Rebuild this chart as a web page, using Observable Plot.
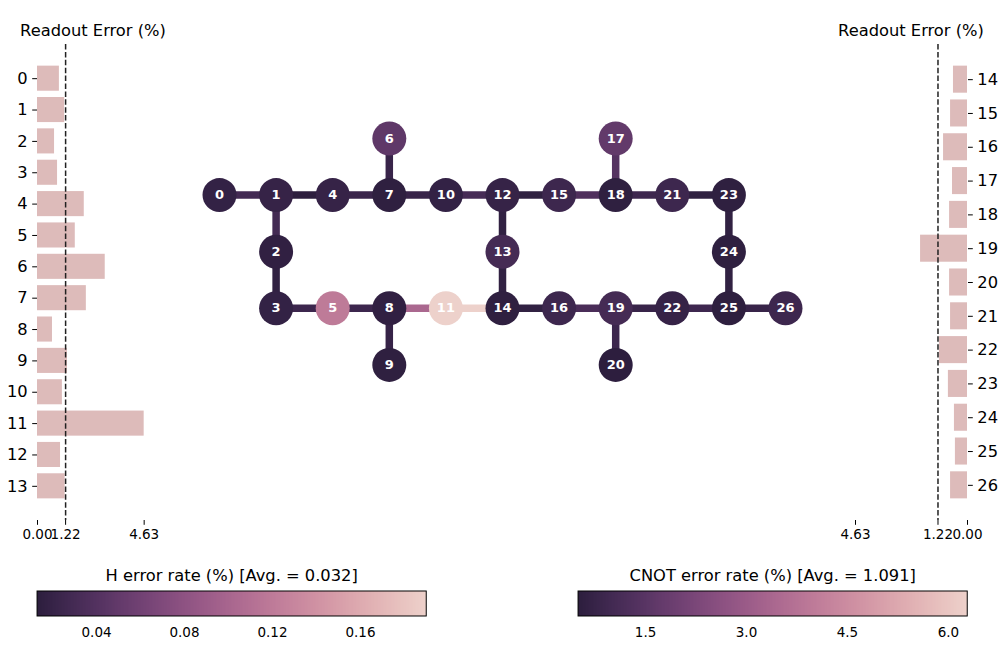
<!DOCTYPE html>
<html><head><meta charset="utf-8">
<script src="https://cdn.jsdelivr.net/npm/d3@7"></script>
<script src="https://cdn.jsdelivr.net/npm/@observablehq/plot@0.6"></script>
<style>
body{margin:0;background:#fff;}
#chart{position:relative;width:1007px;height:649px;font-family:"DejaVu Sans",sans-serif;color:#000;overflow:hidden;background:#fff;}
#chart > *{position:absolute;}
</style></head><body><div id="chart"></div>
<script>
// ---------------- data ----------------
const qubits = d3.range(27);
const leftQubits = d3.range(0, 14);
const rightQubits = d3.range(14, 27);
const readoutError = [0.95, 1.18, 0.74, 0.87, 2.03, 1.64, 2.94, 2.12, 0.65, 1.30, 1.08, 4.63, 1.00, 1.20,
                      0.58, 0.70, 0.99, 0.62, 0.74, 1.94, 0.74, 0.70, 1.16, 0.79, 0.54, 0.50, 0.70];
const readoutAvg = 1.22;
const readoutMax = 4.63;
const readoutTicks = [0, readoutAvg, readoutMax];

const qubitRow = [1,1,2,3,1,3,0,1,3,4,1,3,1,2,3,1,3,0,1,3,4,1,3,1,2,3,3];
const qubitCol = [0,1,1,1,2,2,3,3,3,3,4,4,5,5,5,6,6,7,7,7,7,8,8,9,9,9,10];
const hError = [0.018, 0.020, 0.016, 0.018, 0.020, 0.120, 0.048, 0.015, 0.016, 0.015, 0.018, 0.190, 0.020, 0.030,
                0.015, 0.025, 0.025, 0.050, 0.015, 0.030, 0.0134, 0.025, 0.020, 0.015, 0.015, 0.014, 0.025];
const hAvg = 0.032;
const hTicks = [0.04, 0.08, 0.12, 0.16];

const edgeFrom = [0,1,1,2,3,4,5,6,7,8,8,10,11,12,12,13,14,15,16,17,18,19,19,21,22,23,24,25];
const edgeTo   = [1,2,4,3,5,7,8,7,10,9,11,12,14,13,15,14,16,18,19,18,21,20,22,23,25,24,25,26];
const cnotError = [1.00,1.00,0.50,0.60,0.85,0.80,0.85,0.75,0.75,0.70,3.40,1.10,6.28,0.60,0.55,0.60,0.60,1.30,1.15,1.40,0.90,0.85,0.75,0.55,0.90,0.60,0.60,0.75];
const cnotAvg = 1.091;
const cnotTicks = [1.5, 3.0, 4.5, 6.0];

// ---------------- colormap (seaborn cubehelix, reversed) ----------------
function cubehelix(t) {
  const x = 0.15 + 0.7 * t;
  const hue = 0.8, rot = 0.4, start = 0;
  const a = hue * x * (1 - x) / 2;
  const phi = 2 * Math.PI * (start / 3 + rot * x);
  const f = (p0, p1) => Math.max(0, Math.min(1, x + a * (p0 * Math.cos(phi) + p1 * Math.sin(phi))));
  return d3.rgb(255 * f(-0.14861, 1.78277), 255 * f(-0.29227, -0.90649), 255 * f(1.97294, 0)).formatHex();
}

const FONT = "'DejaVu Sans', sans-serif";
const chart = document.getElementById("chart");
function place(el, left, top) { el.style.left = left + "px"; el.style.top = top + "px"; chart.appendChild(el); return el; }

// ---------------- titles (text layer) ----------------
const tsvg = d3.create("svg").attr("width", 1007).attr("height", 649)
  .style("font-family", FONT).style("font-size", "16.3px");
const titles = [
  {x: 93, y: 35.5, t: "Readout Error (%)"},
  {x: 911, y: 35.5, t: "Readout Error (%)"},
  {x: 231.7, y: 580.5, t: `H error rate (%) [Avg. = ${hAvg}]`},
  {x: 772.7, y: 580.5, t: `CNOT error rate (%) [Avg. = ${cnotAvg}]`}
];
tsvg.selectAll("text").data(titles).join("text")
  .attr("x", d => d.x).attr("y", d => d.y).attr("text-anchor", "middle").attr("fill", "#000").text(d => d.t);
place(tsvg.node(), 0, 0);

// ---------------- readout bar panels ----------------
function readoutPanel(ids, side) {
  const n = ids.length;
  const data = ids.map((q, i) => ({i, q, v: readoutError[q]}));
  const pad = (n - 1 + 0.8) * 0.05;
  const left = side === "left";
  return Plot.plot({
    width: 160, height: 550,
    marginTop: 44, marginBottom: 30,
    marginLeft: left ? 37 : 8, marginRight: left ? 11 : 40,
    style: {fontFamily: FONT, background: "transparent", overflow: "visible"},
    x: {domain: left ? [0, readoutMax * 1.05] : [0, readoutMax], reverse: !left, label: null},
    y: {domain: [-0.4 - pad, n - 1 + 0.4 + pad], reverse: true, label: null},
    marks: [
      Plot.rectX(data, {x: "v", y1: d => d.i - 0.4, y2: d => d.i + 0.4, fill: "#DDBBBA"}),
      Plot.ruleX([readoutAvg], {stroke: "#212121", strokeWidth: 1.5, strokeDasharray: "5.5,2.4"}),
      Plot.axisY({anchor: side, ticks: d3.range(n), tickFormat: i => String(ids[i]), tickSize: 4.8, tickPadding: 5, fontSize: 16.3, label: null, fill: "#000"}),
      Plot.axisX({anchor: "bottom", ticks: readoutTicks, tickFormat: d3.format(".2f"), tickSize: 4.8, tickPadding: 4, fontSize: 13.5, label: null, fill: "#000"})
    ]
  });
}
place(readoutPanel(leftQubits, "left"), 0, 0);
place(readoutPanel(rightQubits, "right"), 847, 0);

// ---------------- gate map ----------------
const nodes = qubits.map(q => ({q, r: qubitRow[q], c: qubitCol[q], h: hError[q]}));
const edges = edgeFrom.map((a, k) => ({a, b: edgeTo[k], v: cnotError[k]}));
const mapOpts = {
  width: 626, height: 286.4, marginLeft: 30, marginRight: 30, marginTop: 30, marginBottom: 30,
  x: {domain: [0, 10], axis: null}, y: {domain: [0, 4], reverse: true, axis: null},
  style: {fontFamily: FONT, background: "transparent", overflow: "visible"}
};
const edgePlot = Plot.plot({
  ...mapOpts,
  color: {type: "linear", domain: d3.extent(cnotError), interpolate: cubehelix},
  marks: [
    Plot.link(edges, {x1: d => qubitCol[d.a], y1: d => qubitRow[d.a], x2: d => qubitCol[d.b], y2: d => qubitRow[d.b],
      stroke: "v", strokeWidth: 7.5, strokeLinecap: "butt"})
  ]
});
const nodePlot = Plot.plot({
  ...mapOpts,
  color: {type: "linear", domain: d3.extent(hError), interpolate: cubehelix},
  marks: [
    Plot.dot(nodes, {x: "c", y: "r", r: 17, fill: "h"}),
    Plot.text(nodes, {x: "c", y: "r", text: d => String(d.q), fill: "white", fontWeight: "bold", fontSize: 13})
  ]
});
place(edgePlot, 188.8, 107.5);
place(nodePlot, 188.8, 107.5);

// ---------------- colorbars ----------------
function colorbar(values, ticks, fmt, width) {
  const svg = Plot.legend({
    color: {type: "linear", domain: d3.extent(values), interpolate: cubehelix, ticks, tickFormat: fmt, label: null},
    ticks, tickFormat: fmt, label: null,
    width, height: 50, marginTop: 0, marginBottom: 25, marginLeft: 0, marginRight: 0, tickSize: 8,
    style: {fontFamily: FONT, fontSize: "13.5px", overflow: "visible", background: "transparent", color: "#000"}
  });
  const s = d3.select(svg);
  s.selectAll(".tick line").remove();
  s.append("rect").attr("x", 0).attr("y", 0).attr("width", width).attr("height", 25)
    .attr("fill", "none").attr("stroke", "#000").attr("stroke-width", 1);
  return svg;
}
place(colorbar(hError, hTicks, ".2f", 389.3), 37, 590.7);
place(colorbar(cnotError, cnotTicks, ".1f", 389.3), 578, 590.7);
</script></body></html>
